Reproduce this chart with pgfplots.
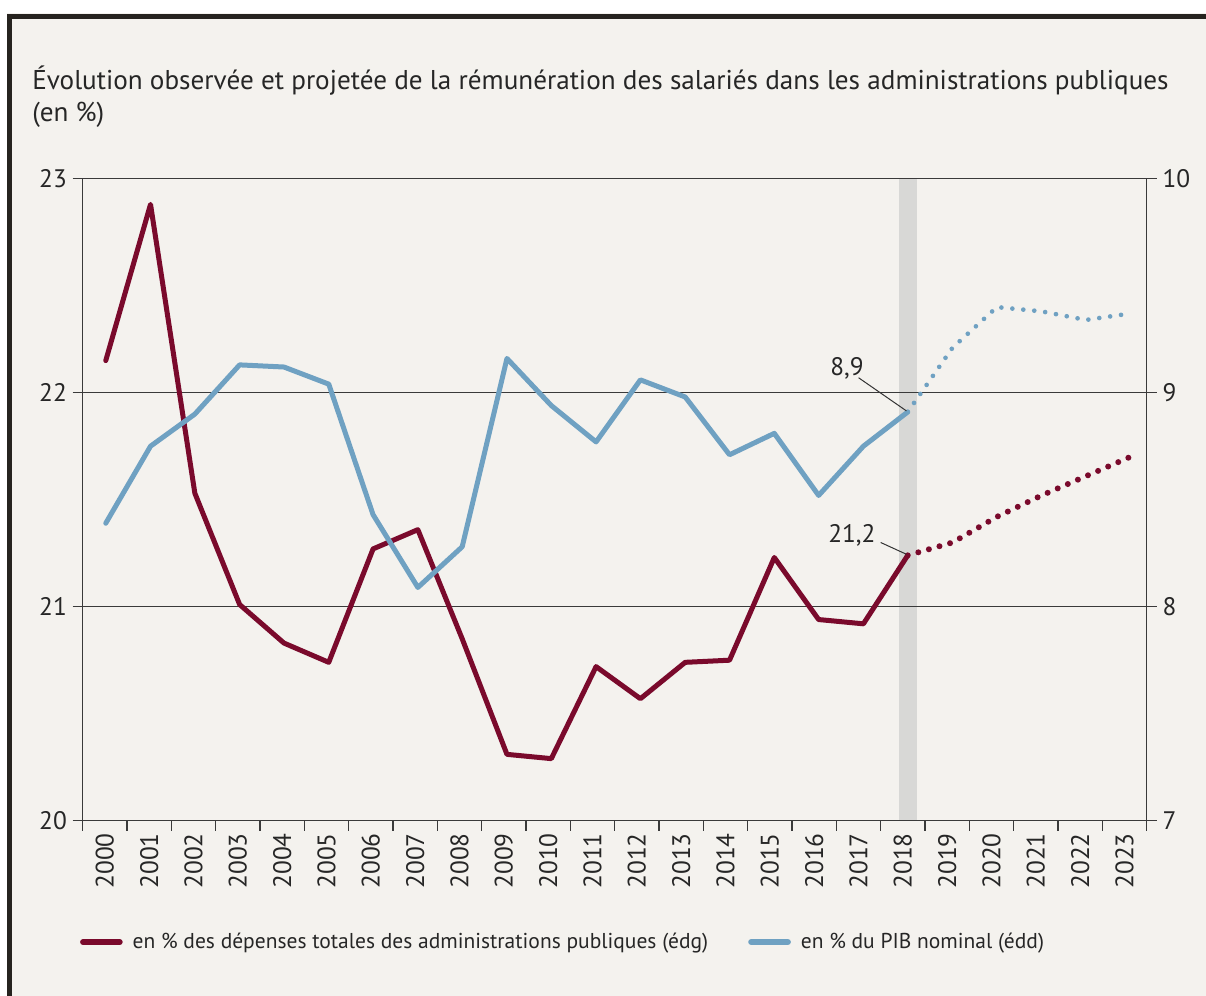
\documentclass[border=0pt]{standalone}
\usepackage{fontspec}
\setmainfont{PT Sans}
\usepackage{pgfplots}
\pgfplotsset{compat=1.18}
\definecolor{bg}{HTML}{F4F2EE}
\definecolor{framec}{HTML}{26231F}
\definecolor{redl}{HTML}{7A0A2C}
\definecolor{bluel}{HTML}{6FA1C2}
\definecolor{bandc}{HTML}{D8D8D6}
\definecolor{gridc}{HTML}{3A3A3A}
\newcommand{\tickfont}{\fontsize{15.2}{18}\selectfont}
\pgfplotsset{chartbox/.style={
  at={(49.62pt,105.18pt)}, anchor=south west,
  scale only axis, width=638.4pt, height=385.2pt,
  xmin=-0.5, xmax=23.5}}
\begin{document}
\begin{tikzpicture}[x=0.6pt,y=0.6pt]
\fill[white] (0,0) rectangle (1206,996);
\fill[bg] (7,0) rectangle (1206,983);
\draw[framec, line width=2.7pt] (9.3,0) -- (9.3,979.3) -- (1206,979.3);
\node[anchor=base west, inner sep=0pt, text=black!85, font=\fontsize{16.3}{19}\selectfont] at (32,906)
  {Évolution observée et projetée de la rémunération des salariés dans les administrations publiques};
\node[anchor=base west, inner sep=0pt, text=black!85, font=\fontsize{16.3}{19}\selectfont] at (32,874) {(en \%)};

% band behind the grid
\begin{axis}[chartbox, ymin=20, ymax=23, hide axis]
\fill[bandc] (axis cs:17.91,20) rectangle (axis cs:18.32,23);
\end{axis}

% left axis
\begin{axis}[
  chartbox, ymin=20, ymax=23,
  axis line style={draw=gridc, line width=0.8pt},
  xtick={-0.5,0.5,...,23.5}, xticklabels={},
  extra x ticks={0,1,...,23},
  extra x tick labels={2000,2001,2002,2003,2004,2005,2006,2007,2008,2009,2010,2011,2012,2013,2014,2015,2016,2017,2018,2019,2020,2021,2022,2023},
  extra x tick style={major tick length=0pt, grid=none},
  x tick label style={rotate=90, anchor=east, font=\tickfont, text=black!85},
  xticklabel shift=4pt,
  ytick={20,21,22,23}, ytick pos=left, xtick pos=bottom,
  y tick label style={font=\tickfont, text=black!85},
  tick align=outside, major tick length=6pt,
  tick style={draw=gridc, line width=0.8pt},
  ymajorgrids, grid style={draw=gridc, line width=0.8pt},
  /pgf/number format/assume math mode=true,
  clip=false,
]
\addplot[redl, line width=3pt, line join=round, line cap=round] coordinates {
 (0.02,22.15) (1.03,22.88) (2.03,21.53) (3.04,21.01) (4.04,20.83) (5.05,20.74)
 (6.05,21.27) (7.06,21.36) (8.06,20.85) (9.07,20.31) (10.07,20.29) (11.08,20.72)
 (12.08,20.57) (13.09,20.74) (14.09,20.75) (15.1,21.23) (16.1,20.94) (17.11,20.92)
 (18.11,21.24)};
\addplot[redl, line width=3.6pt, line cap=round, dash pattern=on 0pt off 6.6pt] coordinates {
 (18.11,21.24) (19.12,21.30) (20.12,21.42) (21.13,21.52) (22.13,21.61) (23.13,21.70)};
\draw[black!80, line width=0.6pt] (axis cs:17.5,21.30) -- (axis cs:18.08,21.245);
\node[font=\tickfont, text=black!85] at (axis cs:16.85,21.335) {21,2};
\end{axis}

% right axis
\begin{axis}[
  chartbox, ymin=7, ymax=10,
  axis x line=none, axis y line*=right,
  axis line style={draw=gridc, line width=0.8pt},
  ytick={7,8,9,10},
  y tick label style={font=\tickfont, text=black!85},
  tick align=outside, major tick length=6pt,
  tick style={draw=gridc, line width=0.8pt},
  /pgf/number format/assume math mode=true,
  clip=false,
  legend style={at={(-0.0075,-0.189)}, anchor=west, draw=none, fill=none,
    font=\fontsize{12.9}{15}\selectfont, text=black!85,
    legend columns=2,
    /tikz/every odd column/.append style={column sep=4pt},
    /tikz/every even column/.append style={column sep=22pt}},
  legend cell align=left,
  legend image code/.code={\draw[#1, line width=3.6pt, line cap=round] (1.5pt,0pt) -- (23.5pt,0pt);},
]
\addlegendimage{redl}
\addlegendentry{en \% des dépenses totales des administrations publiques (édg)}
\addplot[bluel, line width=3pt, line join=round, line cap=round] coordinates {
 (0.02,8.39) (1.03,8.75) (2.03,8.90) (3.04,9.13) (4.04,9.12) (5.05,9.04)
 (6.05,8.43) (7.06,8.09) (8.06,8.28) (9.07,9.16) (10.07,8.94) (11.08,8.77)
 (12.08,9.06) (13.09,8.98) (14.09,8.71) (15.1,8.81) (16.1,8.52) (17.11,8.75)
 (18.11,8.91)};
\addlegendentry{en \% du PIB nominal (édd)}
\addplot[bluel, line width=2.8pt, line cap=round, dash pattern=on 0pt off 6.6pt, forget plot] coordinates {
 (18.11,8.91) (19.12,9.21) (20.12,9.40) (21.13,9.38) (22.13,9.34) (23.13,9.37)};
\draw[black!80, line width=0.6pt] (axis cs:17.0,9.07) -- (axis cs:18.08,8.915);
\node[font=\tickfont, text=black!85] at (axis cs:16.74,9.115) {8,9};
\end{axis}
\pgfresetboundingbox
\path[use as bounding box] (0,0) rectangle (1206,996);
\end{tikzpicture}
\end{document}
